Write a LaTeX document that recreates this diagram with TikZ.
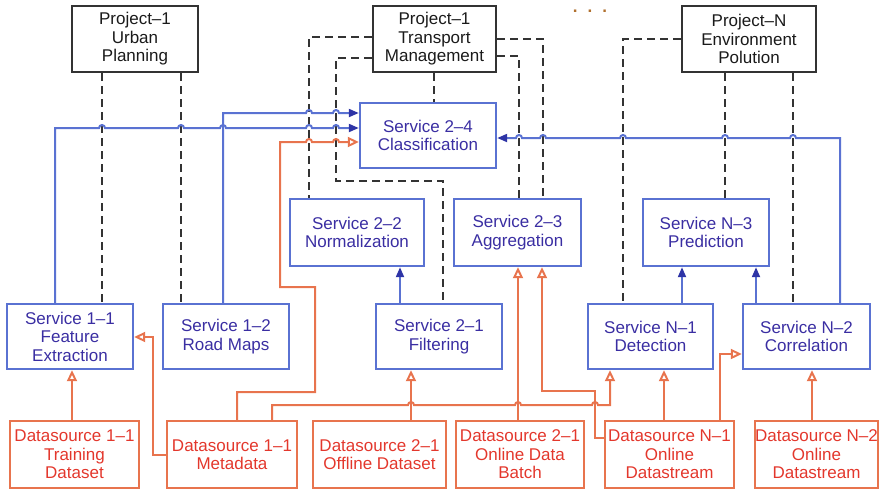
\documentclass[tikz,border=0pt]{standalone}
\usepackage{fontspec}
\setmainfont{Liberation Sans}
\usetikzlibrary{arrows.meta}

\definecolor{prjline}{HTML}{333333}
\definecolor{prjtext}{HTML}{1A1A1A}
\definecolor{svcline}{HTML}{5A72D2}
\definecolor{svctext}{HTML}{3A2EA2}
\definecolor{svctip}{HTML}{2E34A6}
\definecolor{srcline}{HTML}{E8744E}
\definecolor{srctext}{HTML}{E3372C}
\definecolor{dotcol}{HTML}{B0702E}

\tikzset{
  box/.style={rectangle, line width=2.4pt, inner sep=0pt, align=center,
              font=\fontsize{17}{18.5}\selectfont},
  prj/.style={box, draw=prjline, text=prjtext},
  svc/.style={box, draw=svcline, text=svctext},
  src/.style={box, draw=srcline, text=srctext},
  owns/.style={draw=prjline, line width=2.2pt, dash pattern=on 8pt off 5pt},
  feeds/.style={draw=svcline, line width=2pt,
                -{Triangle[length=10pt,width=8pt,fill=svctip,color=svctip]}},
  supplies/.style={draw=srcline, line width=2pt,
                -{Triangle[open,length=11pt,width=10pt]}},
  % small hump where a horizontal line crosses a vertical one
  hopr/.style 2 args={insert path={-- ({#1-3},#2) arc[start angle=180,end angle=0,radius=3pt]}},
  hopl/.style 2 args={insert path={-- ({#1+3},#2) arc[start angle=0,end angle=180,radius=3pt]}},
}

\begin{document}
\begin{tikzpicture}[x=1pt,y=-1pt]
\useasboundingbox (0,0) rectangle (885,491);

% projects
\node[prj, minimum width=126pt, minimum height=66pt] (p1u) at (135,39) {Project–1\\Urban\\Planning};
\node[prj, minimum width=123pt, minimum height=66pt] (p1t) at (434.5,39) {Project–1\\Transport\\Management};
\node[prj, minimum width=134pt, minimum height=66pt] (pn) at (749,39) {Project–N\\Environment\\Polution};
\node[text=dotcol, inner sep=0pt, font=\fontsize{17}{18.5}\selectfont\bfseries] (dots) at (590,11) {.\hspace{10pt}.\hspace{10pt}.};

% services
\node[svc, minimum width=136pt, minimum height=65pt] (s24) at (428,135.5) {Service 2–4\\Classification};
\node[svc, minimum width=134pt, minimum height=67pt] (s22) at (357,232.5) {Service 2–2\\Normalization};
\node[svc, minimum width=127pt, minimum height=67pt] (s23) at (517.5,232.5) {Service 2–3\\Aggregation};
\node[svc, minimum width=126pt, minimum height=67pt] (sn3) at (706,232.5) {Service N–3\\Prediction};
\node[svc, minimum width=126pt, minimum height=65pt] (s11) at (70,336.5) {Service 1–1\\Feature\\Extraction};
\node[svc, minimum width=126pt, minimum height=65pt] (s12) at (226,336.5) {Service 1–2\\Road Maps};
\node[svc, minimum width=126pt, minimum height=65pt] (s21) at (439,336.5) {Service 2–1\\Filtering};
\node[svc, minimum width=125pt, minimum height=65pt] (sn1) at (650.5,336.5) {Service N–1\\Detection};
\node[svc, minimum width=127pt, minimum height=65pt] (sn2) at (806.5,336.5) {Service N–2\\Correlation};

% data sources
\node[src, minimum width=129pt, minimum height=67pt] (d11t) at (74.5,454.5) {Datasource 1–1\\Training\\Dataset};
\node[src, minimum width=130pt, minimum height=67pt] (d11m) at (232,454.5) {Datasource 1–1\\Metadata};
\node[src, minimum width=133pt, minimum height=67pt] (d21o) at (379.5,454.5) {Datasource 2–1\\Offline Dataset};
\node[src, minimum width=128pt, minimum height=67pt] (d21b) at (520,454.5) {Datasource 2–1\\Online Data\\Batch};
\node[src, minimum width=129pt, minimum height=67pt] (dn1) at (669.5,454.5) {Datasource N–1\\Online\\Datastream};
\node[src, minimum width=123pt, minimum height=67pt] (dn2) at (816.5,454.5) {Datasource N–2\\Online\\Datastream};

% project ownership (dashed)
\draw[owns] (102,0 |- p1u.south) -- (102,0 |- s11.north);
\draw[owns] (181,0 |- p1u.south) -- (181,0 |- s12.north);
\draw[owns] (p1t.west |- 0,37) -- (309,37) -- (309,0 |- s22.north);
\draw[owns] (p1t.west |- 0,58) -- (336,58) -- (336,181) -- (443,181) -- (443,0 |- s21.north);
\draw[owns] (434,0 |- p1t.south) -- (434,0 |- s24.north);
\draw[owns] (p1t.east |- 0,39) -- (543,39) -- (543,0 |- s23.north);
\draw[owns] (p1t.east |- 0,56) -- (519,56) -- (519,0 |- s23.north);
\draw[owns] (pn.west |- 0,39) -- (623,39) -- (623,0 |- sn1.north);
\draw[owns] (725,0 |- pn.south) -- (725,0 |- sn3.north);
\draw[owns] (793,0 |- pn.south) -- (793,0 |- sn2.north);

% service to service
\draw[feeds] (55,0 |- s11.north) -- (55,128) [hopr={102}{128}] [hopr={181}{128}] [hopr={223}{128}]
  [hopr={309}{128}] [hopr={336}{128}] -- (s24.west |- 0,128);
\draw[feeds] (223,0 |- s12.north) -- (223,113) [hopr={309}{113}] [hopr={336}{113}] -- (s24.west |- 0,113);
\draw[feeds] (840,0 |- sn2.north) -- (840,138) [hopl={793}{138}] [hopl={725}{138}] [hopl={623}{138}]
  [hopl={543}{138}] [hopl={519}{138}] -- (s24.east |- 0,138);
\draw[feeds] (400,0 |- s21.north) -- (400,0 |- s22.south);
\draw[feeds] (682,0 |- sn1.north) -- (682,0 |- sn3.south);
\draw[feeds] (756,0 |- sn2.north) -- (756,0 |- sn3.south);

% data source to service
\draw[supplies] (72,0 |- d11t.north) -- (72,0 |- s11.south);
\draw[supplies] (d11m.west |- 0,455) -- (153,455) -- (153,337) -- (s11.east |- 0,337);
\draw[supplies] (237,0 |- d11m.north) -- (237,392) -- (315,392) -- (315,287) -- (280,287) -- (280,142)
  [hopr={309}{142}] [hopr={336}{142}] -- (s24.west |- 0,142);
\draw[supplies] (272,0 |- d11m.north) -- (272,405) [hopr={411}{405}] [hopr={518}{405}] [hopr={595}{405}]
  -- (610,405) -- (610,0 |- sn1.south);
\draw[supplies] (411,0 |- d21o.north) -- (411,0 |- s21.south);
\draw[supplies] (518,0 |- d21b.north) -- (518,0 |- s23.south);
\draw[supplies] (dn1.west |- 0,438) -- (595,438) -- (595,391) -- (542,391) -- (542,0 |- s23.south);
\draw[supplies] (664,0 |- dn1.north) -- (664,0 |- sn1.south);
\draw[supplies] (720,0 |- dn1.north) -- (720,354) -- (sn2.west |- 0,354);
\draw[supplies] (812,0 |- dn2.north) -- (812,0 |- sn2.south);
\end{tikzpicture}
\end{document}
